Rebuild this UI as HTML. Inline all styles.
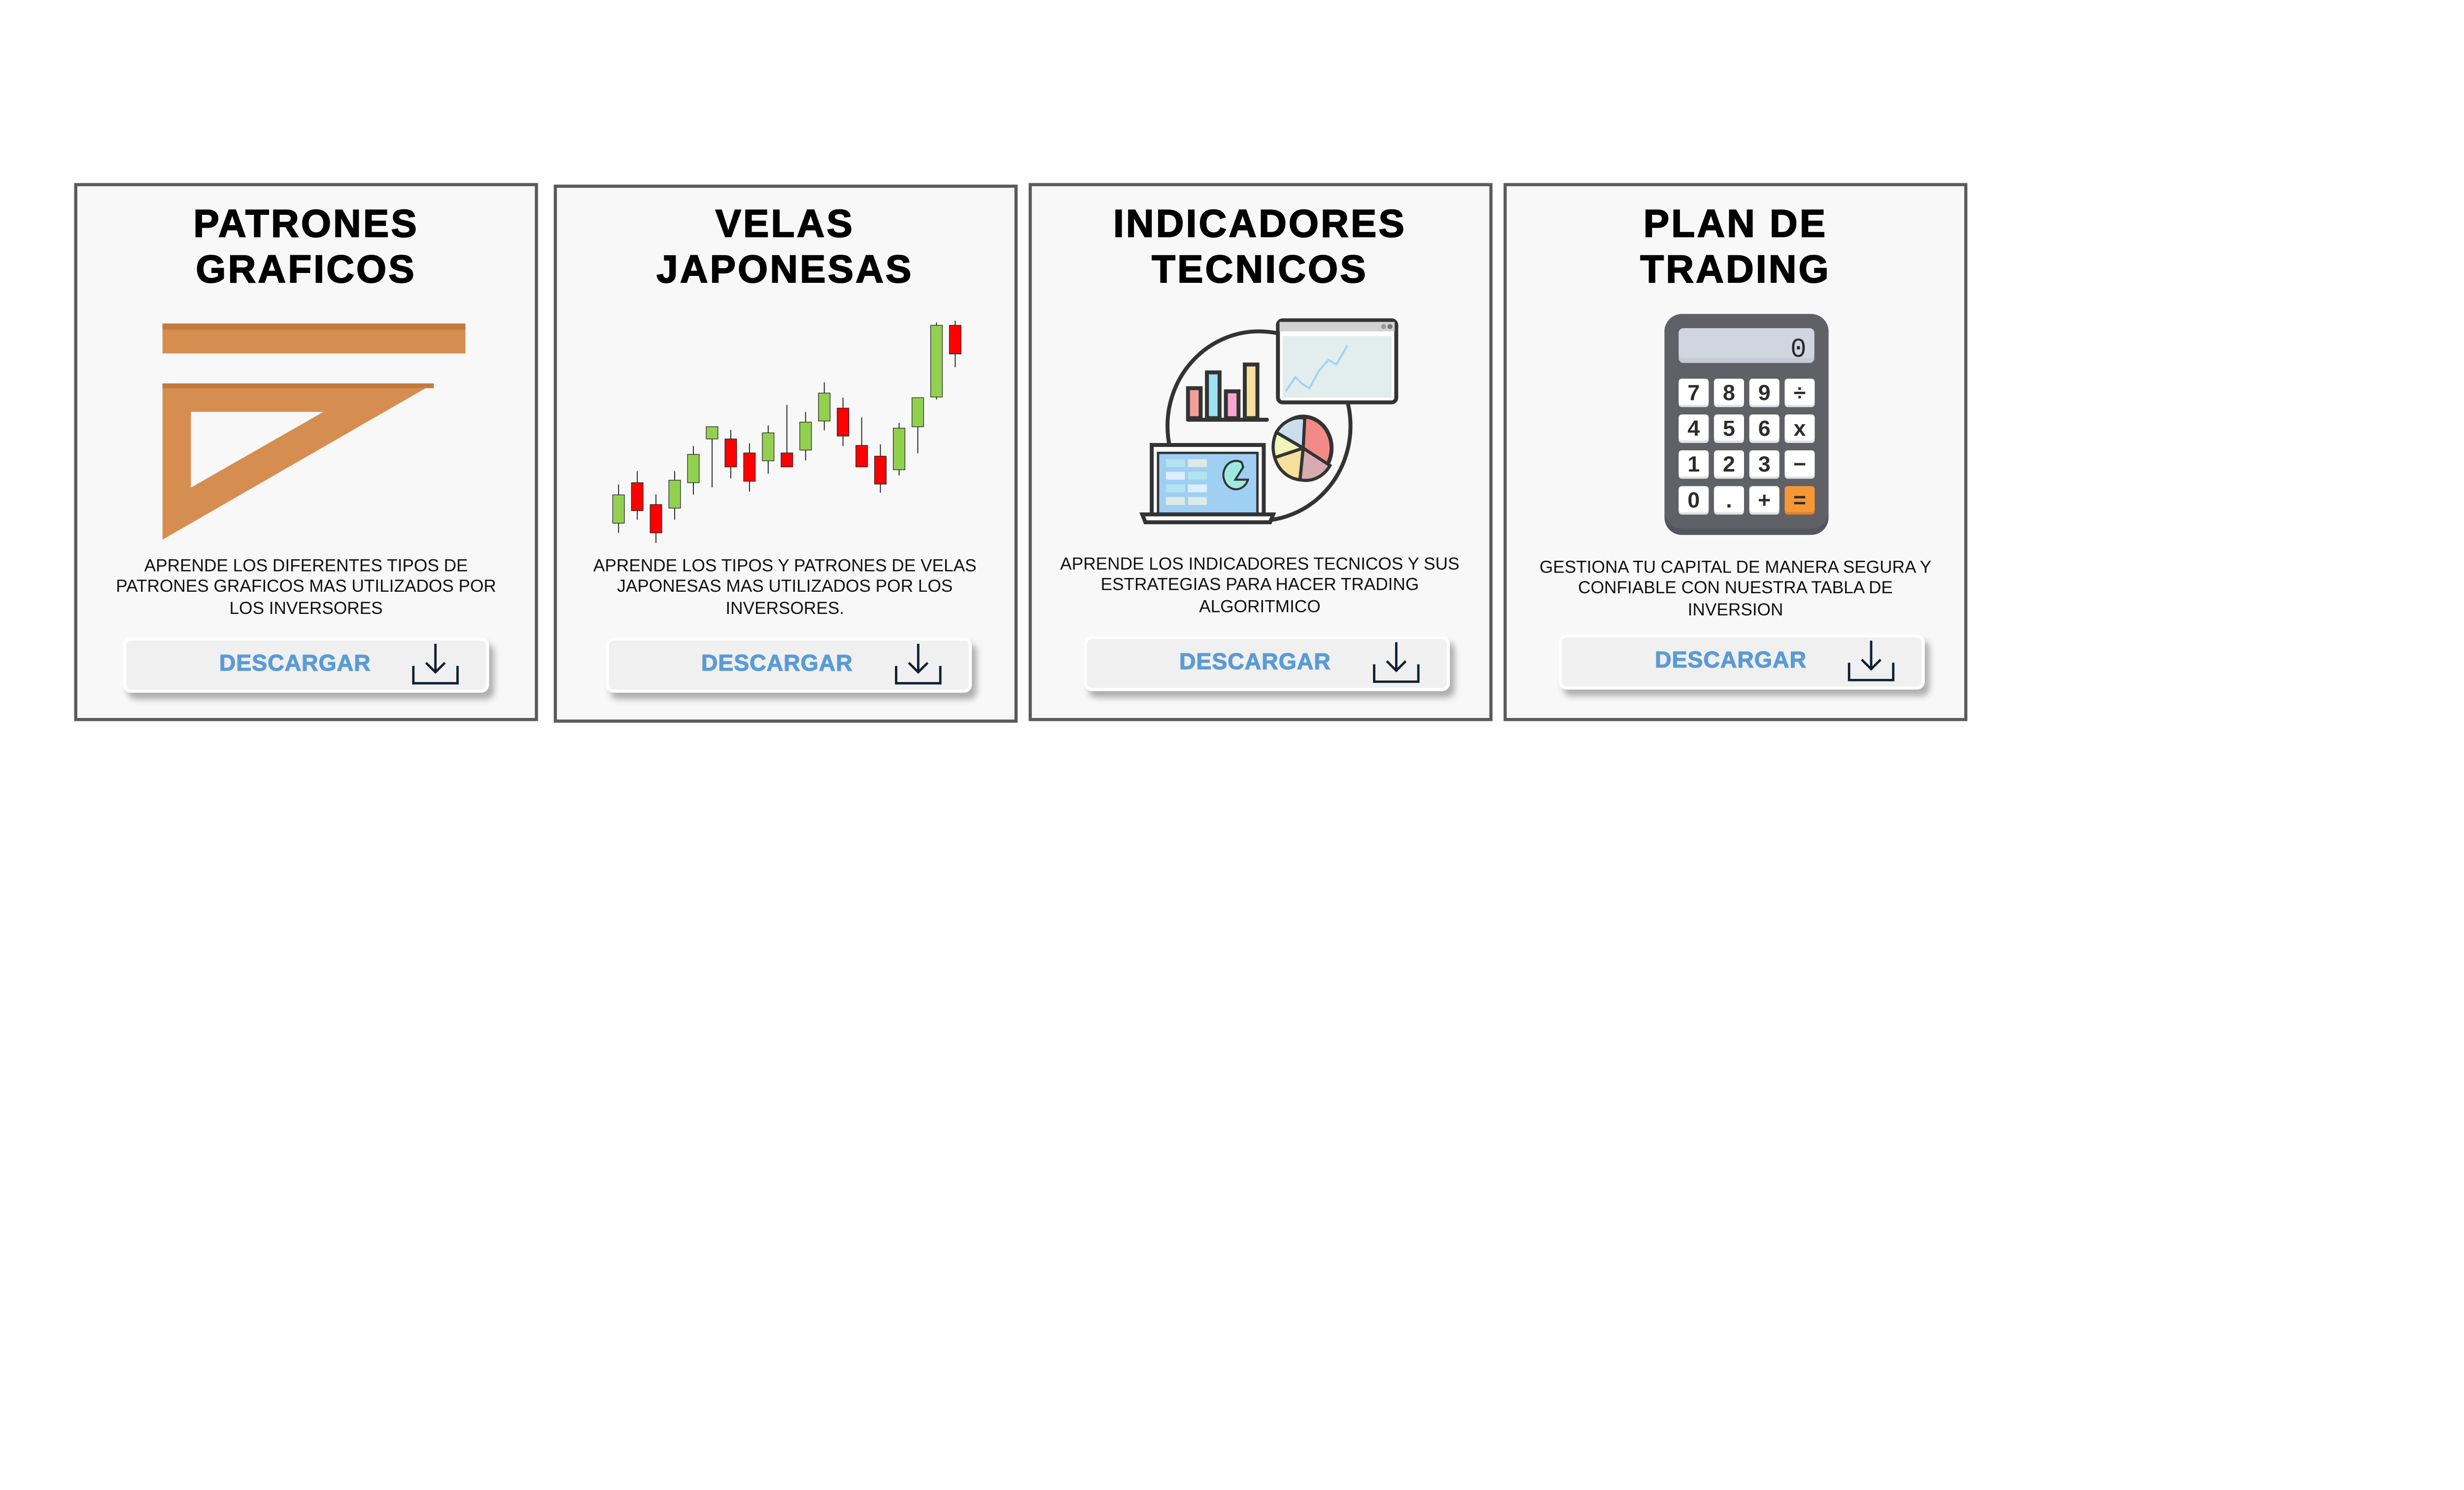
<!DOCTYPE html>
<html><head><meta charset="utf-8">
<style>
html,body{margin:0;padding:0;background:#fff;}
body{width:5291px;height:3024px;overflow:hidden;position:relative;}
#wrap{position:absolute;left:0;top:0;width:1563px;height:893px;transform:scale(3.2015,3.2025);transform-origin:0 0;font-family:"Liberation Sans",Arial,sans-serif;}
.card{position:absolute;width:290px;height:337px;border:2px solid #5a5a5a;background:#f8f8f8;box-sizing:content-box;}
.title{position:absolute;left:0;right:0;top:11px;text-align:center;font-size:24.5px;line-height:28.5px;font-weight:900;letter-spacing:1.3px;color:#000;-webkit-text-stroke:0.6px #000;}
.desc{position:absolute;left:17px;right:17px;top:235px;text-align:center;font-size:11px;line-height:13.4px;color:#111;}
.btn{position:absolute;left:29px;top:286px;width:228px;height:31px;background:#f0f0f0;border-radius:5px;border:2px solid #fff;box-shadow:3px 4px 4px rgba(0,0,0,0.3);}
.btn span{position:absolute;left:0;width:214px;top:7px;text-align:center;font-size:14.5px;font-weight:bold;color:#5b9bd5;letter-spacing:0.3px;-webkit-text-stroke:0.4px #5b9bd5;}
.btn svg{position:absolute;left:178px;top:0px;}
#art{position:absolute;left:0;top:0;}
</style></head><body>
<div id="wrap">

<div class="card" style="left:47px;top:116px">
 <div class="title">PATRONES<br>GRAFICOS</div>
 <div class="desc">APRENDE LOS DIFERENTES TIPOS DE PATRONES GRAFICOS MAS UTILIZADOS POR LOS INVERSORES</div>
 <div class="btn"><span>DESCARGAR</span><svg width="36" height="31" viewBox="0 0 36 31"><path d="M18 2 V20 M12 14 L18 20 L24 14" stroke="#0f1f33" stroke-width="1.5" fill="none"/><path d="M4 16 V27 H32 V16" stroke="#0f1f33" stroke-width="1.5" fill="none"/></svg></div>
</div>

<div class="card" style="left:350.5px;top:117px">
 <div class="title" style="top:10px">VELAS<br>JAPONESAS</div>
 <div class="desc" style="top:234px">APRENDE LOS TIPOS Y PATRONES DE VELAS JAPONESAS MAS UTILIZADOS POR LOS INVERSORES.</div>
 <div class="btn" style="left:31px;top:285px"><span>DESCARGAR</span><svg width="36" height="31" viewBox="0 0 36 31"><path d="M18 2 V20 M12 14 L18 20 L24 14" stroke="#0f1f33" stroke-width="1.5" fill="none"/><path d="M4 16 V27 H32 V16" stroke="#0f1f33" stroke-width="1.5" fill="none"/></svg></div>
</div>

<div class="card" style="left:651.5px;top:116px">
 <div class="title">INDICADORES<br>TECNICOS</div>
 <div class="desc" style="top:234px;left:15px;right:15px">APRENDE LOS INDICADORES TECNICOS Y SUS ESTRATEGIAS PARA HACER TRADING ALGORITMICO</div>
 <div class="btn" style="left:33px;top:285px"><span>DESCARGAR</span><svg width="36" height="31" viewBox="0 0 36 31"><path d="M18 2 V20 M12 14 L18 20 L24 14" stroke="#0f1f33" stroke-width="1.5" fill="none"/><path d="M4 16 V27 H32 V16" stroke="#0f1f33" stroke-width="1.5" fill="none"/></svg></div>
</div>

<div class="card" style="left:953px;top:116px">
 <div class="title">PLAN DE<br>TRADING</div>
 <div class="desc" style="top:236px">GESTIONA TU CAPITAL DE MANERA SEGURA Y CONFIABLE CON NUESTRA TABLA DE INVERSION</div>
 <div class="btn" style="left:33px;top:284px"><span>DESCARGAR</span><svg width="36" height="31" viewBox="0 0 36 31"><path d="M18 2 V20 M12 14 L18 20 L24 14" stroke="#0f1f33" stroke-width="1.5" fill="none"/><path d="M4 16 V27 H32 V16" stroke="#0f1f33" stroke-width="1.5" fill="none"/></svg></div>
</div>

<svg id="art" width="1563" height="893" viewBox="0 0 1563 893">
 <g>
  <rect x="103" y="205" width="192" height="19" fill="#d68d50"/>
  <rect x="103" y="205" width="192" height="4" fill="#c27a3e"/>
  <path d="M103 243 L275 243 L103 342 Z M121 261 L121 309 L205 261 Z" fill="#d68d50" fill-rule="evenodd"/>
  <rect x="103" y="243" width="172" height="3" fill="#c27a3e"/>
 </g>
 <g id="candles"></g>
 <g stroke="#333" stroke-width="2.5" transform="translate(-3,0)">
  <ellipse cx="801" cy="270" rx="58" ry="60" fill="none"/>
  <line x1="756" y1="266" x2="806" y2="266" stroke-linecap="round"/>
  <rect x="756" y="246" width="8" height="19" fill="#f29f9c"/>
  <rect x="768" y="236" width="8" height="29" fill="#9ce3f3"/>
  <rect x="780" y="248" width="8" height="17" fill="#f9a5d3"/>
  <rect x="792" y="231" width="8" height="34" fill="#f4e19e"/>
  <rect x="813" y="203" width="75" height="52" rx="3" fill="#fff"/>
  <rect x="814" y="204" width="73" height="6" fill="#d2d2d2" stroke="none"/>
  <rect x="816" y="213" width="69" height="39" fill="#e2edee" stroke="none"/>
  <circle cx="880" cy="207" r="1.6" fill="#999" stroke="none"/><circle cx="884" cy="207" r="1.6" fill="#777" stroke="none"/>
  <polyline points="818,248 824,239 828,243 833,246 839,235 845,228 850,231 857,219" fill="none" stroke="#9fd2f5" stroke-width="1.2"/>
  <ellipse cx="829" cy="284" rx="18" ry="20" fill="#f28b88"/>
  <path d="M829 284 L830 265 A18 20 0 0 0 812 274 Z" fill="#cadeec" stroke-width="2"/>
  <path d="M829 284 L812 274 A18 20 0 0 0 811 290 Z" fill="#eef6b8" stroke-width="2"/>
  <path d="M829 284 L811 290 A18 20 0 0 0 827 304 Z" fill="#f4e09c" stroke-width="2"/>
  <path d="M829 284 L827 304 A18 20 0 0 0 846 295 Z" fill="#d8abb3" stroke-width="2"/>
  <rect x="733" y="282" width="71" height="44" fill="#fff"/>
  <rect x="737" y="287" width="63" height="39" fill="#9fcff3" stroke-width="1.5"/>
  <rect x="742" y="291" width="12" height="5" fill="#b3e3f0" stroke="none"/><rect x="756" y="291" width="12" height="5" fill="#dcebe4" stroke="none"/>
  <rect x="742" y="299" width="12" height="5" fill="#dcefff" stroke="none"/><rect x="756" y="299" width="12" height="5" fill="#b3e3f0" stroke="none"/>
  <rect x="742" y="307" width="12" height="5" fill="#b3e3f0" stroke="none"/><rect x="756" y="307" width="12" height="5" fill="#dcefff" stroke="none"/>
  <rect x="742" y="315" width="12" height="5" fill="#dcebe4" stroke="none"/><rect x="756" y="315" width="12" height="5" fill="#dcebe4" stroke="none"/>
  <path d="M790 293 A8 9 0 1 0 794 304 L786 304 L791 296 Z" fill="#9eeae0" stroke-width="1.3"/>
  <path d="M727 326 H810 L808 331 H729 Z" fill="#fff"/>
 </g>
 <g transform="translate(-4,0)">
  <rect x="1059" y="199" width="104" height="140" rx="11" fill="#55565c"/>
  <rect x="1059" y="199" width="104" height="136" rx="11" fill="#606167"/>
  <rect x="1068" y="208" width="86" height="22" rx="3" fill="#c5cad6"/>
  <rect x="1068" y="208" width="86" height="19" rx="3" fill="#d0d5e0"/>
  <text x="1149" y="226" text-anchor="end" font-family="Liberation Mono,monospace" font-size="17" fill="#2a2a2a">0</text>
  <g id="keys"></g>
 </g>
</svg>
</div>
<script>
const candleOpen  = [13.5,24.8,18.7,17.7,24.8,37.0,37.0,33.1,30.9,33.1,33.9,42.0,45.6,35.2,32.2,28.4,40.4,48.7,68.7];
const candleClose = [21.4,17.0,10.8,25.5,32.7,40.4,29.2,25.2,38.7,29.2,41.7,49.8,37.8,29.2,24.4,40.0,48.5,68.7,60.7];
const candleHigh  = [24.3,28.0,21.5,28.0,35.0,40.4,39.5,35.8,40.8,46.5,44.5,52.8,48.5,43.0,35.5,41.5,48.5,69.5,70.0];
const candleLow   = [10.8,14.5, 8.0,14.5,21.5,23.5,26.0,22.3,27.3,29.2,31.0,39.4,35.0,29.2,22.0,26.8,33.0,48.0,57.0];
const calcKeys = ['7','8','9','÷','4','5','6','x','1','2','3','−','0','.','+','='];

const NS='http://www.w3.org/2000/svg';
function yScale(v){return 118+(1075-10*v)*0.2272;}
function xScale(i){return (1180+(217+i*57.2)/1.4255)/3.385 - 1.5;}
const cg=document.getElementById('candles');
for(let i=0;i<candleOpen.length;i++){
  const up=candleClose[i]>=candleOpen[i];
  const x=xScale(i);
  const w=document.createElementNS(NS,'line');
  
  
  w.setAttribute('x1',x);w.setAttribute('x2',x);
  w.setAttribute('y1',yScale(candleHigh[i]));w.setAttribute('y2',yScale(candleLow[i]));
  w.setAttribute('stroke','#222');w.setAttribute('stroke-width','0.6');
  cg.appendChild(w);
  const r=document.createElementNS(NS,'rect');
  
  
  const top=yScale(Math.max(candleOpen[i],candleClose[i])),bot=yScale(Math.min(candleOpen[i],candleClose[i]));
  r.setAttribute('x',x-3.7);r.setAttribute('width',7.4);
  r.setAttribute('y',top);r.setAttribute('height',Math.max(bot-top,1));
  r.setAttribute('fill',up?'#92d050':'#ff0000');r.setAttribute('stroke','#222');r.setAttribute('stroke-width','0.4');
  cg.appendChild(r);
}
const kg=document.getElementById('keys');
calcKeys.forEach((k,i)=>{
  const c=i%4,rw=Math.floor(i/4);
  const x=1068+c*22.4,y=240+rw*22.7;
  const isEq=k==='=';
  const s=document.createElementNS(NS,'rect');
  
  
  s.setAttribute('x',x);s.setAttribute('y',y);s.setAttribute('width',19);s.setAttribute('height',18);s.setAttribute('rx',2);
  s.setAttribute('fill',isEq?'#e0802a':'#e2e3e6');kg.appendChild(s);
  const r=document.createElementNS(NS,'rect');
  
  
  r.setAttribute('x',x);r.setAttribute('y',y);r.setAttribute('width',19);r.setAttribute('height',16.5);r.setAttribute('rx',2);
  r.setAttribute('fill',isEq?'#f79734':'#ffffff');kg.appendChild(r);
  const t=document.createElementNS(NS,'text');
  
  
  t.setAttribute('x',x+9.5);t.setAttribute('y',y+13.5);t.setAttribute('text-anchor','middle');
  t.setAttribute('font-family','Liberation Sans,sans-serif');t.setAttribute('font-weight','bold');t.setAttribute('font-size','14');
  t.setAttribute('fill','#2c2c2c');t.textContent=k;kg.appendChild(t);
});
</script>
</body></html>
